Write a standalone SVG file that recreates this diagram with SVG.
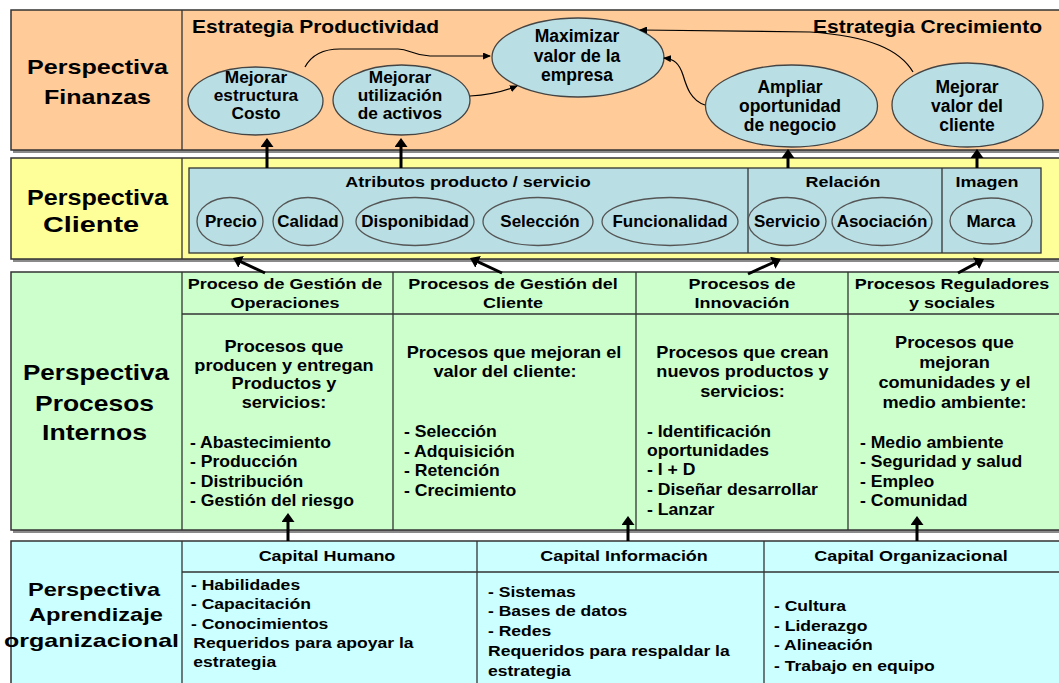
<svg xmlns="http://www.w3.org/2000/svg" width="1059" height="683" viewBox="0 0 1059 683">
<defs>
<style>
.t{font-family:"Liberation Sans",Arial,sans-serif;font-weight:bold;fill:#000}
.c{text-anchor:middle}
.hd{font-size:15.5px}
.el{font-size:17.5px}
.es{font-size:16px}
.sm{font-size:17px}
.bd{font-size:16.5px}
.ls{font-size:16px}
.la{font-size:15px}
.band{stroke:#333;stroke-width:1.5}
.shadow{fill:#8a8a8a}
.div{stroke:#333;stroke-width:1.3;fill:none}
.oval{fill:#B9DFE4;stroke:#444;stroke-width:1.3}
.soval{fill:none;stroke:#555;stroke-width:1.3}
.thick{stroke:#000;stroke-width:3;fill:none;marker-end:url(#big)}
.thin{stroke:#000;stroke-width:1.2;fill:none;marker-end:url(#small)}
</style>
<marker id="big" markerUnits="userSpaceOnUse" markerWidth="9" markerHeight="13" viewBox="0 0 9 13" refX="3" refY="6.5" orient="auto"><path d="M0,0 L9,6.5 L0,13 z" fill="#000"/></marker>
<marker id="small" markerUnits="userSpaceOnUse" markerWidth="8" markerHeight="7" viewBox="0 0 8 7" refX="7" refY="3.5" orient="auto"><path d="M0,0 L8,3.5 L0,7 z" fill="#000"/></marker>
</defs>
<rect x="0" y="0" width="1059" height="683" fill="#fff"/>

<g id="finanzas">
<rect class="shadow" x="13" y="13" width="1060" height="140"/>
<rect class="band" x="11" y="10" width="1060" height="140" fill="#FFCC99"/>
<line class="div" x1="182" y1="10" x2="182" y2="150"/>
<text class="t" x="27" y="74" font-size="21" textLength="141" lengthAdjust="spacingAndGlyphs">Perspectiva</text>
<text class="t" x="44" y="104" font-size="21" textLength="107" lengthAdjust="spacingAndGlyphs">Finanzas</text>
<text class="t" x="192" y="33" font-size="18" textLength="247" lengthAdjust="spacingAndGlyphs">Estrategia Productividad</text>
<text class="t" x="813" y="33" font-size="18" textLength="229" lengthAdjust="spacingAndGlyphs">Estrategia Crecimiento</text>
</g>

<g id="cliente">
<rect class="shadow" x="13" y="161" width="1060" height="101"/>
<rect class="band" x="11" y="158" width="1060" height="101" fill="#FFFF99"/>
<line class="div" x1="182" y1="158" x2="182" y2="259"/>
<text class="t" x="27" y="205" font-size="22" textLength="141" lengthAdjust="spacingAndGlyphs">Perspectiva</text>
<text class="t" x="43" y="232" font-size="22" textLength="96" lengthAdjust="spacingAndGlyphs">Cliente</text>
<rect x="189" y="168" width="852" height="85" fill="#B9DFE4" stroke="#333" stroke-width="1.3"/>
<line class="div" x1="748" y1="168" x2="748" y2="253"/>
<line class="div" x1="942" y1="168" x2="942" y2="253"/>
<text class="t c hd" x="468" y="187" transform="matrix(1.16,0,0,1,-74.88,0)">Atributos producto / servicio</text>
<text class="t c hd" x="843" y="187" transform="matrix(1.16,0,0,1,-134.88,0)">Relación</text>
<text class="t c hd" x="987" y="187" transform="matrix(1.16,0,0,1,-157.92,0)">Imagen</text>
</g>

<g id="procesos">
<rect class="shadow" x="13" y="275" width="1060" height="258"/>
<rect class="band" x="11" y="272" width="1060" height="258" fill="#CCFFCC"/>
<line class="div" x1="182" y1="272" x2="182" y2="530"/>
<line class="div" x1="393" y1="272" x2="393" y2="530"/>
<line class="div" x1="636" y1="272" x2="636" y2="530"/>
<line class="div" x1="848" y1="272" x2="848" y2="530"/>
<line class="div" x1="182" y1="314" x2="1071" y2="314"/>
<text class="t" x="23" y="380" font-size="22" textLength="146" lengthAdjust="spacingAndGlyphs">Perspectiva</text>
<text class="t" x="35" y="411" font-size="22" textLength="119" lengthAdjust="spacingAndGlyphs">Procesos</text>
<text class="t" x="42" y="440" font-size="22" textLength="105" lengthAdjust="spacingAndGlyphs">Internos</text>
</g>

<g id="aprendizaje">
<rect class="shadow" x="13" y="544" width="1060" height="150"/>
<rect class="band" x="11" y="541" width="1060" height="150" fill="#CCFFFF"/>
<line class="div" x1="182" y1="541" x2="182" y2="691"/>
<line class="div" x1="477" y1="541" x2="477" y2="691"/>
<line class="div" x1="764" y1="541" x2="764" y2="691"/>
<line class="div" x1="182" y1="572" x2="1071" y2="572"/>
<text class="t" x="28" y="596" font-size="19" textLength="132" lengthAdjust="spacingAndGlyphs">Perspectiva</text>
<text class="t" x="29" y="621" font-size="19" textLength="134" lengthAdjust="spacingAndGlyphs">Aprendizaje</text>
<text class="t" x="4" y="647" font-size="19" textLength="175" lengthAdjust="spacingAndGlyphs">organizacional</text>
</g>

<g id="n-mejorar-estructura">
<ellipse class="oval" cx="255.5" cy="101" rx="67.5" ry="34"/>
<g transform="matrix(1.08,0,0,1,-20.48,0)">
<text class="t c es" x="256" y="83.5">Mejorar</text>
<text class="t c es" x="256" y="101.5">estructura</text>
<text class="t c es" x="256" y="119.5">Costo</text>
</g>
</g>
<g id="n-mejorar-utilizacion">
<ellipse class="oval" cx="401.5" cy="100" rx="68.5" ry="35"/>
<g transform="matrix(1.08,0,0,1,-32,0)">
<text class="t c es" x="400" y="83.5">Mejorar</text>
<text class="t c es" x="400" y="101.5">utilización</text>
<text class="t c es" x="400" y="119.5">de activos</text>
</g>
</g>
<g id="n-maximizar">
<ellipse class="oval" cx="578" cy="57.5" rx="86" ry="39.5"/>
<text class="t c el" x="577" y="42">Maximizar</text>
<text class="t c el" x="577" y="62">valor de la</text>
<text class="t c el" x="577" y="81">empresa</text>
</g>
<g id="n-ampliar">
<ellipse class="oval" cx="791.5" cy="106" rx="86" ry="41"/>
<text class="t c el" x="790" y="93">Ampliar</text>
<text class="t c el" x="790" y="112">oportunidad</text>
<text class="t c el" x="790" y="131">de negocio</text>
</g>
<g id="n-mejorar-valor">
<ellipse class="oval" cx="967.5" cy="105" rx="75.5" ry="42"/>
<text class="t c el" x="967" y="93">Mejorar</text>
<text class="t c el" x="967" y="112">valor del</text>
<text class="t c el" x="967" y="131">cliente</text>
</g>

<g id="n-precio"><ellipse class="soval" cx="230" cy="221.5" rx="33" ry="24"/><text class="t c sm" x="231" y="227">Precio</text></g>
<g id="n-calidad"><ellipse class="soval" cx="308" cy="221.5" rx="35" ry="24"/><text class="t c sm" x="308" y="227">Calidad</text></g>
<g id="n-disponibidad"><ellipse class="soval" cx="415" cy="221.5" rx="59" ry="24"/><text class="t c sm" x="415" y="227">Disponibidad</text></g>
<g id="n-seleccion"><ellipse class="soval" cx="538" cy="221.5" rx="55" ry="24"/><text class="t c sm" x="540" y="227">Selección</text></g>
<g id="n-funcionalidad"><ellipse class="soval" cx="670" cy="221.5" rx="68" ry="24"/><text class="t c sm" x="670" y="227">Funcionalidad</text></g>
<g id="n-servicio"><ellipse class="soval" cx="787" cy="221.5" rx="39" ry="24"/><text class="t c sm" x="787" y="227">Servicio</text></g>
<g id="n-asociacion"><ellipse class="soval" cx="882" cy="221.5" rx="50" ry="24"/><text class="t c sm" x="882" y="227">Asociación</text></g>
<g id="n-marca"><ellipse class="soval" cx="991" cy="221" rx="41" ry="23"/><text class="t c sm" x="991" y="227">Marca</text></g>

<g id="n-operaciones">
<text class="t c hd" x="285" y="289" transform="matrix(1.16,0,0,1,-45.6,0)">Proceso de Gestión de</text>
<text class="t c hd" x="285" y="308" transform="matrix(1.16,0,0,1,-45.6,0)">Operaciones</text>
<g transform="matrix(1.1,0,0,1,-28.4,0)">
<text class="t c bd" x="284" y="352">Procesos que</text>
<text class="t c bd" x="284" y="371">producen y entregan</text>
<text class="t c bd" x="284" y="389">Productos y</text>
<text class="t c bd" x="284" y="408">servicios:</text>
</g>
<g transform="matrix(1.1,0,0,1,-19,0)">
<text class="t ls" x="190" y="448">- Abastecimiento</text>
<text class="t ls" x="190" y="467">- Producción</text>
<text class="t ls" x="190" y="487">- Distribución</text>
<text class="t ls" x="190" y="506">- Gestión del riesgo</text>
</g>
</g>

<g id="n-gestion-cliente">
<text class="t c hd" x="513" y="289" transform="matrix(1.16,0,0,1,-82.08,0)">Procesos de Gestión del</text>
<text class="t c hd" x="513" y="308" transform="matrix(1.16,0,0,1,-82.08,0)">Cliente</text>
<text class="t c bd" x="514" y="358" transform="matrix(1.1,0,0,1,-51.4,0)">Procesos que mejoran el</text>
<text class="t c bd" x="505" y="377" transform="matrix(1.1,0,0,1,-50.5,0)">valor del cliente:</text>
<g transform="matrix(1.1,0,0,1,-40.4,0)">
<text class="t ls" x="404" y="437">- Selección</text>
<text class="t ls" x="404" y="457">- Adquisición</text>
<text class="t ls" x="404" y="476">- Retención</text>
<text class="t ls" x="404" y="496">- Crecimiento</text>
</g>
</g>

<g id="n-innovacion">
<text class="t c hd" x="742" y="289" transform="matrix(1.16,0,0,1,-118.72,0)">Procesos de</text>
<text class="t c hd" x="742" y="308" transform="matrix(1.16,0,0,1,-118.72,0)">Innovación</text>
<g transform="matrix(1.1,0,0,1,-74.25,0)">
<text class="t c bd" x="742.5" y="358">Procesos que crean</text>
<text class="t c bd" x="742.5" y="377">nuevos productos y</text>
<text class="t c bd" x="742.5" y="397">servicios:</text>
</g>
<g transform="matrix(1.1,0,0,1,-64.7,0)">
<text class="t ls" x="647" y="437">- Identificación</text>
<text class="t ls" x="647" y="456">oportunidades</text>
<text class="t ls" x="647" y="475">- I + D</text>
<text class="t ls" x="647" y="495">- Diseñar desarrollar</text>
<text class="t ls" x="647" y="515">- Lanzar</text>
</g>
</g>

<g id="n-reguladores">
<text class="t c hd" x="952" y="289" transform="matrix(1.16,0,0,1,-152.32,0)">Procesos Reguladores</text>
<text class="t c hd" x="952" y="308" transform="matrix(1.16,0,0,1,-152.32,0)">y sociales</text>
<g transform="matrix(1.1,0,0,1,-95.45,0)">
<text class="t c bd" x="954.5" y="348">Procesos que</text>
<text class="t c bd" x="954.5" y="368">mejoran</text>
<text class="t c bd" x="954.5" y="388">comunidades y el</text>
<text class="t c bd" x="954.5" y="408">medio ambiente:</text>
</g>
<g transform="matrix(1.1,0,0,1,-86,0)">
<text class="t ls" x="860" y="448">- Medio ambiente</text>
<text class="t ls" x="860" y="467">- Seguridad y salud</text>
<text class="t ls" x="860" y="487">- Empleo</text>
<text class="t ls" x="860" y="506">- Comunidad</text>
</g>
</g>

<g id="n-capital-humano">
<text class="t c hd" x="327" y="561" transform="matrix(1.16,0,0,1,-52.32,0)">Capital Humano</text>
<g transform="matrix(1.17,0,0,1,-32.47,0)">
<text class="t la" x="191" y="590">- Habilidades</text>
<text class="t la" x="191" y="609">- Capacitación</text>
<text class="t la" x="191" y="629">- Conocimientos</text>
<text class="t la" x="193" y="648">Requeridos para apoyar la</text>
<text class="t la" x="193" y="667">estrategia</text>
</g>
</g>

<g id="n-capital-informacion">
<text class="t c hd" x="624" y="561" transform="matrix(1.16,0,0,1,-99.84,0)">Capital Información</text>
<g transform="matrix(1.17,0,0,1,-82.96,0)">
<text class="t la" x="488" y="597">- Sistemas</text>
<text class="t la" x="488" y="616">- Bases de datos</text>
<text class="t la" x="488" y="636">- Redes</text>
<text class="t la" x="488" y="656">Requeridos para respaldar la</text>
<text class="t la" x="488" y="676">estrategia</text>
</g>
</g>

<g id="n-capital-organizacional">
<text class="t c hd" x="911" y="561" transform="matrix(1.16,0,0,1,-145.76,0)">Capital Organizacional</text>
<g transform="matrix(1.17,0,0,1,-131.58,0)">
<text class="t la" x="774" y="611">- Cultura</text>
<text class="t la" x="774" y="631">- Liderazgo</text>
<text class="t la" x="774" y="650">- Alineación</text>
<text class="t la" x="774" y="671">- Trabajo en equipo</text>
</g>
</g>

<g id="connectors">
<path class="thin" d="M305,67 C312,54 325,49 340,49 L398,49 C410,49 411,55 430,56 L490,56"/>
<path class="thin" d="M470,96 C490,95 503,92 517,86"/>
<path class="thin" d="M913,72 C900,50 870,36 810,32 L640,30"/>
<path class="thin" d="M705,105 C690,100 686,85 683,75 C679,63 674,59 664,58"/>
<path class="thick" d="M267,168 V144"/>
<path class="thick" d="M401,168 V144"/>
<path class="thick" d="M788,168 V155"/>
<path class="thick" d="M977,168 V155"/>
<path class="thick" d="M265,273 L238.4,260.6"/>
<path class="thick" d="M502,273 L475.4,260.6"/>
<path class="thick" d="M748,274 L775.5,261.5"/>
<path class="thick" d="M958,273 L978.7,261.9"/>
<path class="thick" d="M288,541 V519"/>
<path class="thick" d="M628,541 V522"/>
<path class="thick" d="M917,541 V522"/>
</g>
</svg>
